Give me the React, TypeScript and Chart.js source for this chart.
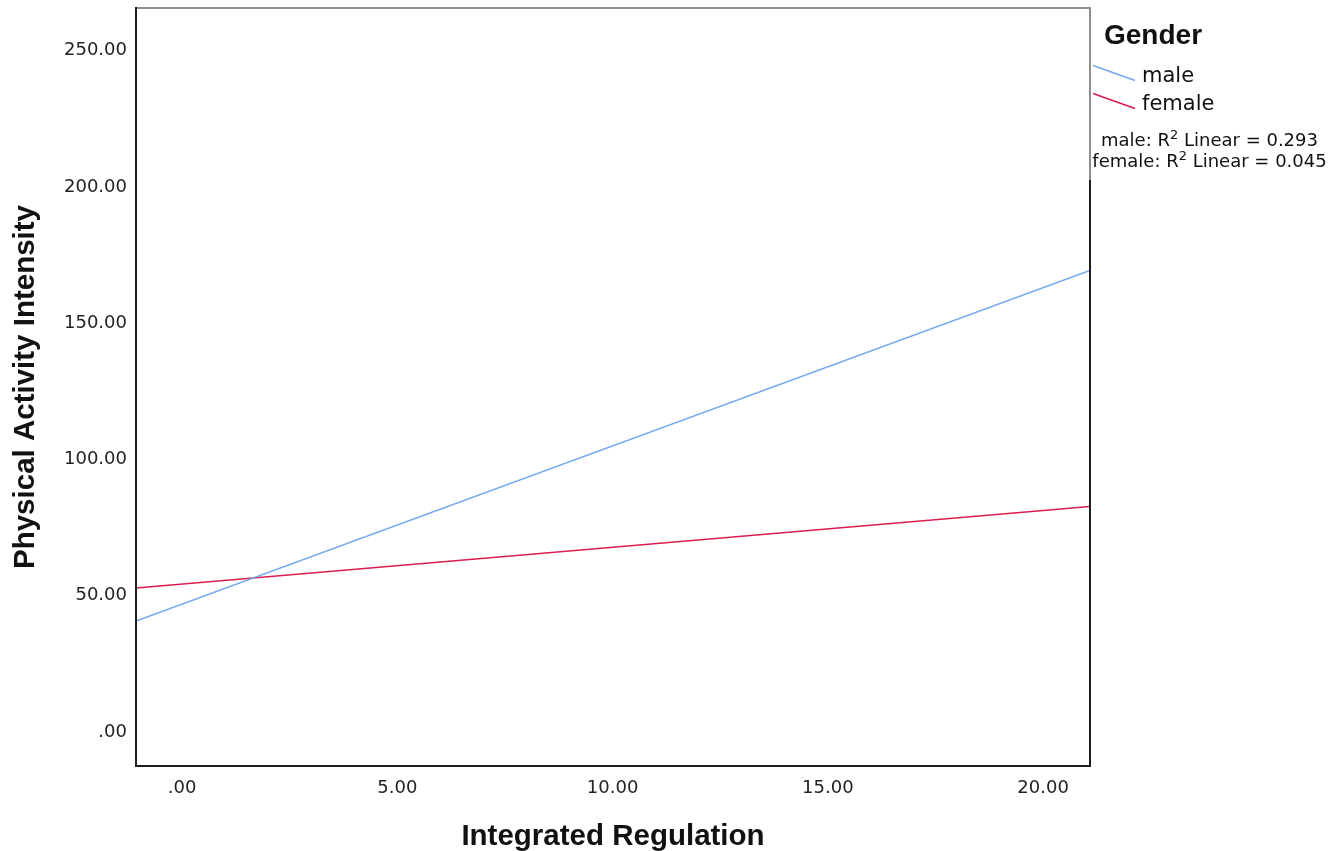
import React, { useEffect, useRef } from "react";
import { Chart, registerables } from "chart.js";

Chart.register(...registerables);

// ---- data ----
const xRange = [-1.07, 21.09]; // x-axis extent (fit lines span the whole plot)
const maleFit = [40.0, 168.6]; // fitted line values at the x extent
const femaleFit = [52.1, 82.0];
const seriesLabels = ["male", "female"];
const seriesColors = ["#74a8ee", "#da1c4e"];
const r2Values = [0.293, 0.045];
const legendTitle = "Gender";

const xTickValues = [0, 5, 10, 15, 20];
const xTickLabels = [".00", "5.00", "10.00", "15.00", "20.00"];
const yRange = [-13.2, 264.9];
const yTickValues = [0, 50, 100, 150, 200, 250];
const yTickLabels = [".00", "50.00", "100.00", "150.00", "200.00", "250.00"];

const xTitle = "Integrated Regulation";
const yTitle = "Physical Activity Intensity";

const framePlugin = {
  id: "framePlugin",
  afterDraw(chart: any) {
    const { ctx, chartArea } = chart;
    const { left, right, top, bottom } = chartArea;
    ctx.save();
    ctx.lineWidth = 2;
    // gray part of frame (top + upper right, shared with legend box)
    ctx.strokeStyle = "#8e8e8e";
    ctx.beginPath();
    ctx.moveTo(left, top);
    ctx.lineTo(right, top);
    ctx.lineTo(right, top + 172);
    ctx.stroke();
    ctx.strokeStyle = "#1e1e1e";
    ctx.beginPath();
    ctx.moveTo(right, top + 172);
    ctx.lineTo(right, bottom);
    ctx.lineTo(left, bottom);
    ctx.lineTo(left, top - 1);
    ctx.stroke();

    // legend
    const lx = right;
    ctx.fillStyle = "#111";
    ctx.textBaseline = "alphabetic";
    ctx.textAlign = "left";
    ctx.font = "bold 28px 'Liberation Sans', Arial, sans-serif";
    ctx.fillText(legendTitle, lx + 14, top + 36);

    const baselines = [top + 74, top + 102];
    chart.data.datasets.forEach((ds: any, i: number) => {
      const b = baselines[i];
      ctx.strokeStyle = ds.borderColor;
      ctx.lineWidth = 1.5;
      ctx.beginPath();
      ctx.moveTo(lx + 3, b - 16.5);
      ctx.lineTo(lx + 45, b - 1.5);
      ctx.stroke();
      ctx.fillStyle = "#111";
      ctx.font = "21px 'DejaVu Sans', sans-serif";
      ctx.fillText(ds.label, lx + 52, b);
    });

    // R² annotations
    const cx = lx + 119.5;
    const r2Base = [top + 137.5, top + 159];
    chart.data.datasets.forEach((ds: any, i: number) => {
      const a = ds.label + ": R";
      const sup = "2";
      const c = " Linear = " + r2Values[i].toFixed(3);
      ctx.font = "18px 'DejaVu Sans', sans-serif";
      const wa = ctx.measureText(a).width;
      const wc = ctx.measureText(c).width;
      ctx.font = "13px 'DejaVu Sans', sans-serif";
      const ws = ctx.measureText(sup).width;
      const total = wa + ws + wc;
      let x = cx - total / 2;
      const b = r2Base[i];
      ctx.fillStyle = "#111";
      ctx.font = "18px 'DejaVu Sans', sans-serif";
      ctx.fillText(a, x, b);
      x += wa;
      ctx.font = "13px 'DejaVu Sans', sans-serif";
      ctx.fillText(sup, x, b - 7);
      x += ws;
      ctx.font = "18px 'DejaVu Sans', sans-serif";
      ctx.fillText(c, x, b);
    });
    ctx.restore();
  },
};

export default function App() {
  const canvasRef = useRef<HTMLCanvasElement | null>(null);

  useEffect(() => {
    document.body.style.margin = "0";
    const canvas = canvasRef.current!;
    const fits = [maleFit, femaleFit];
    const chart = new Chart(canvas, {
      type: "scatter",
      data: {
        datasets: seriesLabels.map((label, i) => ({
          label,
          data: xRange.map((x, j) => ({ x, y: fits[i][j] })),
          showLine: true,
          borderColor: seriesColors[i],
          backgroundColor: seriesColors[i],
          borderWidth: 1.6,
          pointRadius: 0,
          pointHoverRadius: 0,
        })),
      },
      options: {
        animation: false,
        responsive: false,
        devicePixelRatio: 1,
        layout: { padding: { top: 8, right: 252, left: 0, bottom: 0 } },
        plugins: {
          legend: { display: false },
          tooltip: { enabled: false },
        },
        scales: {
          x: {
            type: "linear",
            min: xRange[0],
            max: xRange[1],
            grid: { display: false, drawTicks: false },
            border: { display: false },
            afterBuildTicks: (scale: any) => {
              scale.ticks = xTickValues.map((v) => ({ value: v }));
            },
            afterFit: (scale: any) => {
              scale.height = 85;
              scale.paddingLeft = 0;
              scale.paddingRight = 0;
            },
            ticks: {
              padding: 12,
              maxRotation: 0,
              autoSkip: false,
              color: "#222",
              font: { family: "'DejaVu Sans', sans-serif", size: 18 },
              callback: (v: any) => {
                const k = xTickValues.indexOf(Number(v));
                return k >= 0 ? xTickLabels[k] : "";
              },
            },
            title: {
              display: true,
              text: xTitle,
              color: "#111",
              font: { family: "'Liberation Sans', Arial, sans-serif", size: 29.5, weight: "bold", lineHeight: 1 },
              padding: { top: 0, bottom: -1 },
            },
          },
          y: {
            type: "linear",
            min: yRange[0],
            max: yRange[1],
            grid: { display: false, drawTicks: false },
            border: { display: false },
            afterBuildTicks: (scale: any) => {
              scale.ticks = yTickValues.map((v) => ({ value: v }));
            },
            afterFit: (scale: any) => {
              scale.width = 136;
              scale.paddingTop = 0;
              scale.paddingBottom = 0;
            },
            ticks: {
              padding: 9,
              labelOffset: 2,
              autoSkip: false,
              color: "#222",
              font: { family: "'DejaVu Sans', sans-serif", size: 18 },
              callback: (v: any) => {
                const k = yTickValues.indexOf(Number(v));
                return k >= 0 ? yTickLabels[k] : "";
              },
            },
            title: {
              display: true,
              text: yTitle,
              color: "#111",
              font: { family: "'Liberation Sans', Arial, sans-serif", size: 29.5, weight: "bold", lineHeight: 1 },
              padding: { top: 11, bottom: 0 },
            },
          },
        },
      },
      plugins: [framePlugin],
    });
    return () => chart.destroy();
  }, []);

  return (
    <div style={{ position: "absolute", left: 0, top: 0, width: 1342, height: 851, background: "#fff" }}>
      <canvas ref={canvasRef} width={1342} height={851} style={{ display: "block" }} />
    </div>
  );
}
